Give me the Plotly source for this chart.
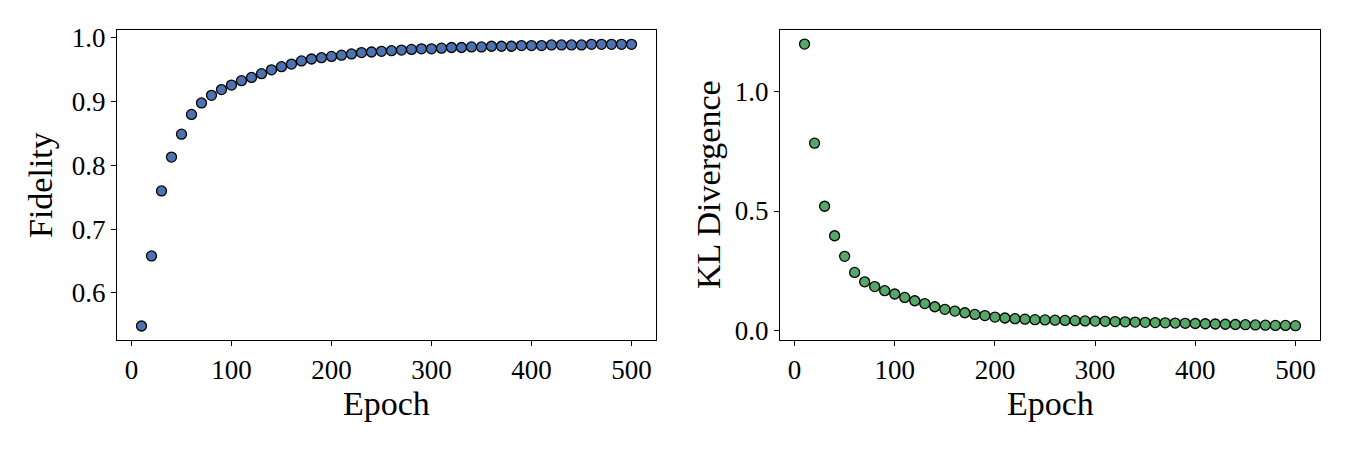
import plotly.graph_objects as go

epochs = list(range(10, 501, 10))

fidelity = [0.548, 0.658, 0.760, 0.813, 0.849, 0.880, 0.898, 0.910, 0.919, 0.926,
            0.933, 0.938, 0.944, 0.950, 0.955, 0.959, 0.964, 0.967, 0.969, 0.971,
            0.973, 0.975, 0.977, 0.978, 0.979, 0.980, 0.981, 0.982, 0.983, 0.983,
            0.984, 0.985, 0.985, 0.986, 0.986, 0.987, 0.987, 0.987, 0.988, 0.988,
            0.988, 0.989, 0.989, 0.989, 0.989, 0.990, 0.990, 0.990, 0.990, 0.990]

kl_div = [1.196, 0.783, 0.520, 0.397, 0.311, 0.244, 0.205, 0.185, 0.168, 0.154,
          0.140, 0.126, 0.114, 0.101, 0.090, 0.083, 0.076, 0.069, 0.064, 0.058,
          0.054, 0.051, 0.049, 0.047, 0.046, 0.045, 0.044, 0.043, 0.042, 0.041,
          0.040, 0.039, 0.038, 0.037, 0.036, 0.035, 0.034, 0.033, 0.032, 0.031,
          0.030, 0.029, 0.028, 0.027, 0.026, 0.025, 0.024, 0.023, 0.023, 0.022]

x_ticks = [0, 100, 200, 300, 400, 500]
fid_ticks = [0.6, 0.7, 0.8, 0.9, 1.0]
kl_ticks = [0.0, 0.5, 1.0]

FONT = "Liberation Serif"
BLUE = "#4C72B0"
GREEN = "#55A868"

fig = go.Figure()
fig.add_trace(go.Scatter(x=epochs, y=fidelity, mode="markers", xaxis="x", yaxis="y",
                         marker=dict(size=10, color=BLUE, line=dict(color="black", width=1.3)),
                         showlegend=False))
fig.add_trace(go.Scatter(x=epochs, y=kl_div, mode="markers", xaxis="x2", yaxis="y2",
                         marker=dict(size=10, color=GREEN, line=dict(color="black", width=1.3)),
                         showlegend=False))

L, R, T, B = 117, 30, 30, 110
W = 1350 - L - R
H = 450 - T - B

def px_x(p):
    return (p - L) / W

def px_y(p):
    return (450 - B - p) / H

axis_common = dict(showline=True, linecolor="black", linewidth=1.2, mirror=True,
                   ticks="outside", ticklen=5, tickwidth=1.2, tickcolor="black",
                   showgrid=False, zeroline=False,
                   tickfont=dict(family=FONT, size=27, color="black"))

fig.update_layout(
    width=1350, height=450,
    margin=dict(l=L, r=R, t=T, b=B),
    paper_bgcolor="white", plot_bgcolor="white",
    font=dict(family=FONT, color="black"),
    xaxis=dict(domain=[0, px_x(656)], range=[-14.5, 524.5], tickvals=x_ticks,
               ticktext=[str(v) for v in x_ticks], anchor="y", **axis_common),
    yaxis=dict(domain=[0, 1], range=[0.526, 1.0125], tickvals=fid_ticks,
               ticktext=[f"{v:.1f}" for v in fid_ticks], anchor="x", **axis_common),
    xaxis2=dict(domain=[px_x(780), 1], range=[-14.5, 524.5], tickvals=x_ticks,
                ticktext=[str(v) for v in x_ticks], anchor="y2", **axis_common),
    yaxis2=dict(domain=[0, 1], range=[-0.0377, 1.2547], tickvals=kl_ticks,
                ticktext=[f"{v:.1f}" for v in kl_ticks], anchor="x2", **axis_common),
)

ann_font = dict(family=FONT, size=34, color="black")
fig.add_annotation(text="Epoch", xref="paper", yref="paper",
                   x=px_x((117 + 656) / 2), y=px_y(403), showarrow=False,
                   xanchor="center", yanchor="middle", font=ann_font)
fig.add_annotation(text="Epoch", xref="paper", yref="paper",
                   x=px_x((780 + 1320) / 2), y=px_y(403), showarrow=False,
                   xanchor="center", yanchor="middle", font=ann_font)
fig.add_annotation(text="Fidelity", xref="paper", yref="paper",
                   x=px_x(40), y=px_y(185), showarrow=False, textangle=-90,
                   xanchor="center", yanchor="middle", font=ann_font)
fig.add_annotation(text="KL Divergence", xref="paper", yref="paper",
                   x=px_x(708), y=px_y(185), showarrow=False, textangle=-90,
                   xanchor="center", yanchor="middle", font=ann_font)

fig.write_html("out.html")
